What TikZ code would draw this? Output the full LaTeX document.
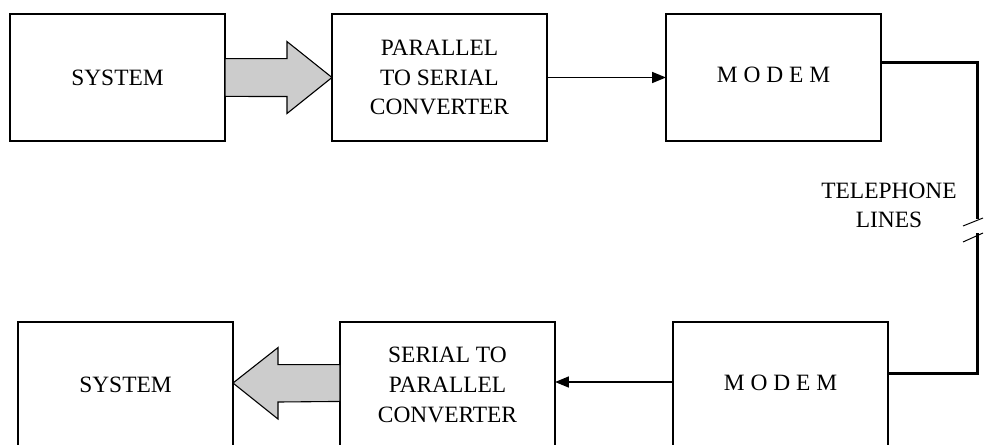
\documentclass[tikz,border=0pt]{standalone}
\usepackage{fontspec}
\setmainfont{Liberation Serif}
\usetikzlibrary{positioning,arrows.meta}
\tikzset{
  block/.style={draw,line width=1.5pt,minimum width=215bp,minimum height=127bp,
    inner sep=0pt,outer sep=0pt,align=center,font=\fontsize{23.5}{30}\selectfont},
  lowblock/.style={block,minimum height=126bp},
  fat/.style={draw,line width=1.1pt,fill=gray!40,line join=miter},
  link/.style={line width=1.7pt,-{Triangle[length=14pt,width=11pt]}},
  phone/.style={line width=3pt},
  tick/.style={line width=1pt},
  caption/.style={align=center,font=\fontsize{23.5}{29}\selectfont}
}
\begin{document}
\begin{tikzpicture}[x=1bp,y=-1bp]
  \clip (0,0) rectangle (984,445);
  % upper row
  \node[block] (sys1) at (117.5,77.5) {SYSTEM};
  \node[block,right=107bp of sys1] (p2s) {PARALLEL\\TO SERIAL\\CONVERTER};
  \node[block,right=119bp of p2s] (modem1) {\raisebox{6pt}{M O D E M}};
  % lower row
  \node[lowblock] (sys2) at (125.5,385) {SYSTEM};
  \node[lowblock,right=107bp of sys2] (s2p) {SERIAL TO\\PARALLEL\\CONVERTER};
  \node[lowblock,right=118bp of s2p] (modem2) {\raisebox{4pt}{M O D E M}};
  % parallel links
  \draw[fat] ([yshift=19pt]sys1.east) -- ++(62,0) -- ++(0,-17) -- (p2s.west)
    -- ++(-45,36) -- ++(0,-17) -- ([yshift=-19pt]sys1.east) -- cycle;
  \draw[fat] ([yshift=20.5pt]s2p.west) -- ++(-62,0) -- ++(0,-17) -- ([yshift=2pt]sys2.east)
    -- ++(45,36) -- ++(0,-17) -- ([yshift=-16.5pt]s2p.west) -- cycle;
  % serial links
  \draw[link] (p2s.east) -- (modem1.west);
  \draw[link] ([yshift=3pt]modem2.west) -- ([yshift=3pt]s2p.east);
  % telephone lines
  \coordinate (breaktop) at (977,219);
  \coordinate (breakbot) at (977,233);
  \draw[phone] ([yshift=15.5pt]modem1.east) -| (breaktop);
  \draw[phone] ([yshift=12pt]modem2.east) -| (breakbot);
  \draw[tick] (breaktop) ++(-14,7) -- ++(20,-8);
  \draw[tick] (breakbot) ++(-14,9) -- ++(20,-9);
  \node[caption] (tel) at (889,205) {TELEPHONE\\LINES};
\end{tikzpicture}
\end{document}
